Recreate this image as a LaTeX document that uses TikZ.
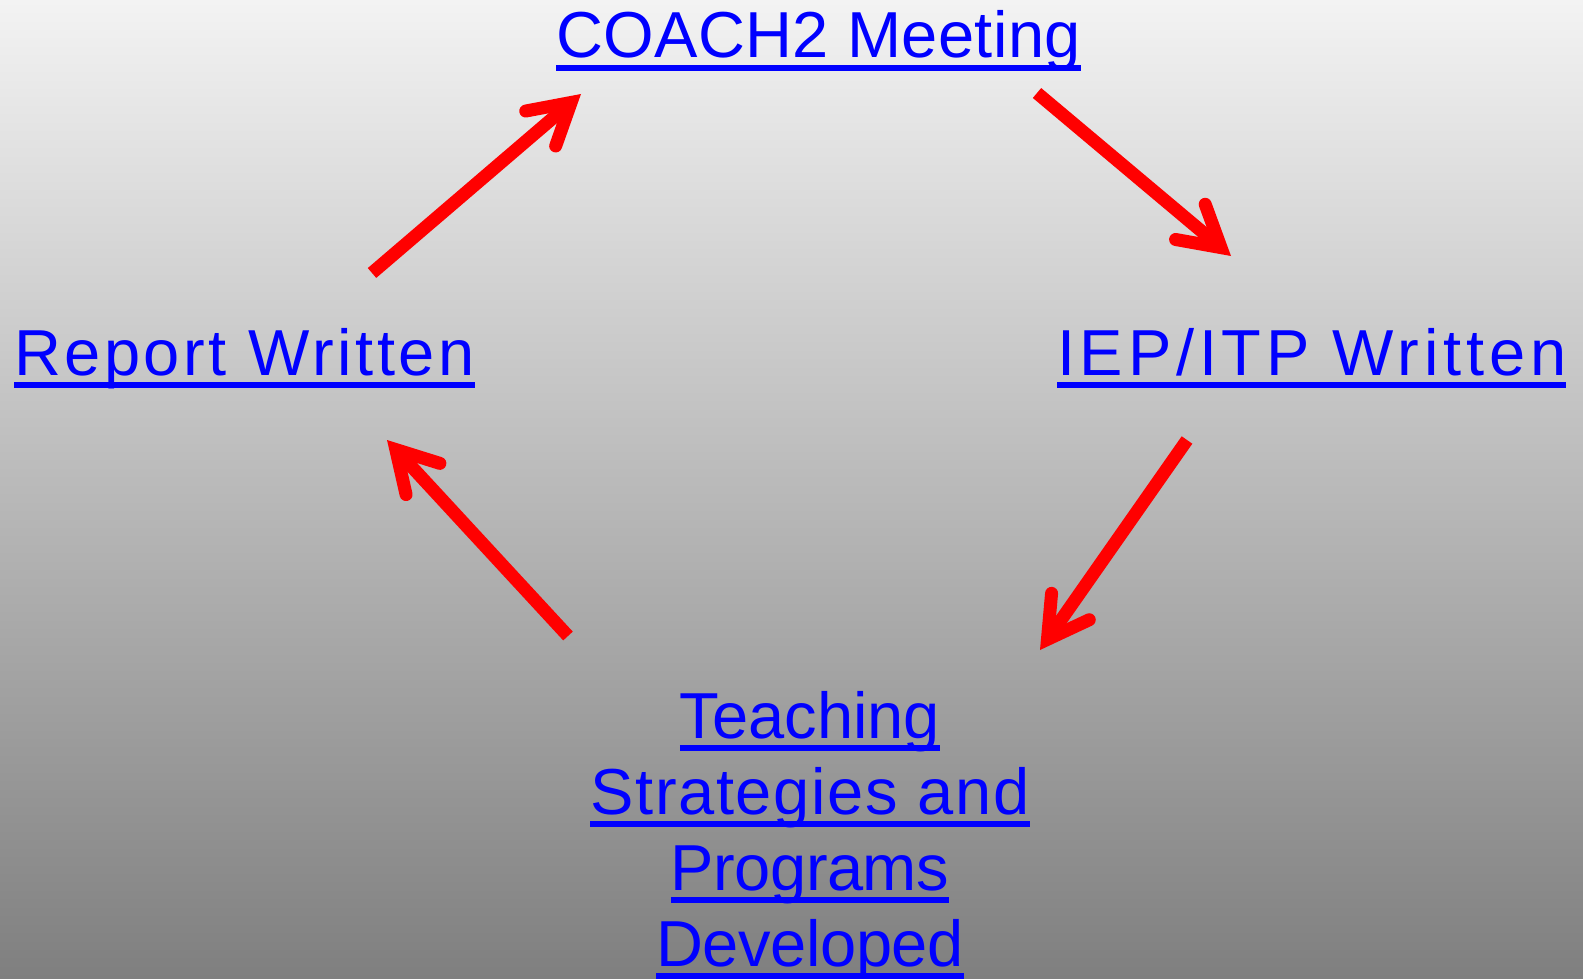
\documentclass[tikz,border=0pt]{standalone}
\usepackage{fontspec}
\setmainfont{Liberation Sans}
\usetikzlibrary{arrows.meta}
\definecolor{bgtop}{RGB}{243,243,243}
\definecolor{bgbot}{RGB}{127,127,127}
\definecolor{txtblue}{RGB}{0,0,255}
\definecolor{arrowred}{RGB}{255,0,0}
\tikzset{
  lbl/.style={inner sep=0pt, outer sep=0pt, text=txtblue, font=\fontsize{65}{76}\selectfont},
  ul/.style={draw=txtblue, line width=5.5pt},
  flow/.style={draw=arrowred, line width=13pt,
    -{Straight Barb[length=40pt,width=46pt,line cap=round,line join=miter]}}
}
\begin{document}
\begin{tikzpicture}[x=1pt,y=-1pt]
\shade[top color=bgtop, bottom color=bgbot] (0,0) rectangle (1583,979);
\useasboundingbox (0,0) rectangle (1583,979);
% labels
\node[lbl, anchor=base west] (coach) at (556,58) {\addfontfeature{LetterSpace=0.6}COACH2 Meeting};
\node[lbl, anchor=base west] (report) at (14,375) {\addfontfeature{LetterSpace=5.5}Report Written};
\node[lbl, anchor=base west] (iep) at (1057,375) {\addfontfeature{LetterSpace=7.4}IEP/ITP Written};
\node[lbl, anchor=base] (teachA) at (810,738) {Teaching};
\node[lbl, anchor=base] (teachB) at (810,814) {\addfontfeature{LetterSpace=2.6}Strategies and};
\node[lbl, anchor=base] (teachC) at (810,890) {\addfontfeature{LetterSpace=-0.8}Programs};
\node[lbl, anchor=base] (teachD) at (810,966) {\addfontfeature{LetterSpace=-0.6}Developed};
% underlines
\foreach \n in {coach,report,iep,teachA,teachB,teachC,teachD}
  \draw[ul] ([yshift=-10pt]\n.base west) -- ([yshift=-10pt]\n.base east);
% arrow ends
\coordinate (a1s) at (372,273);
\coordinate (a1e) at (581,94);
\coordinate (a2s) at (1037,93);
\coordinate (a2e) at (1231,256);
\coordinate (a3s) at (1187,440);
\coordinate (a3e) at (1040,650);
\coordinate (a4s) at (568,636);
\coordinate (a4e) at (387,440);
\draw[flow] (a1s) -- (a1e);
\draw[flow] (a2s) -- (a2e);
\draw[flow] (a3s) -- (a3e);
\draw[flow] (a4s) -- (a4e);
\end{tikzpicture}
\end{document}
